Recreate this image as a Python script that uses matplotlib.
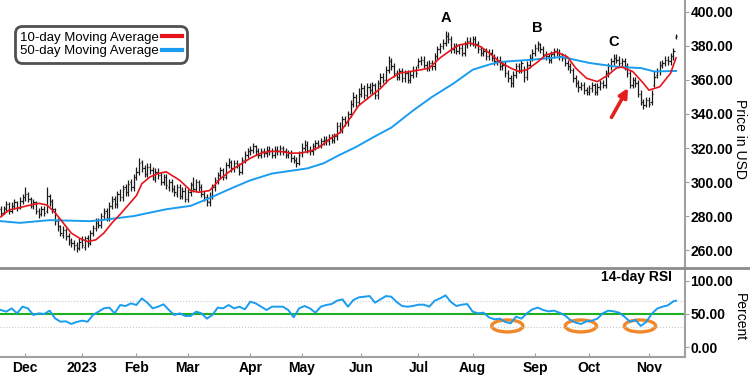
import matplotlib
matplotlib.use("Agg")
import matplotlib.pyplot as plt
from matplotlib.lines import Line2D
from matplotlib.patches import Ellipse
import numpy as np
import pandas as pd

plt.rcParams['font.family'] = ['Liberation Sans', 'DejaVu Sans']

# trading days shown (17 Nov 2022 .. 15 Nov 2023)
holidays = ['2022-11-24', '2022-12-26', '2023-01-02', '2023-01-16', '2023-02-20',
            '2023-04-07', '2023-05-29', '2023-06-19', '2023-07-04', '2023-09-04']
month_labels = ['Dec', '2023', 'Feb', 'Mar', 'Apr', 'May', 'Jun', 'Jul', 'Aug', 'Sep', 'Oct', 'Nov']

# daily OHLC (USD)
closes = [282, 284, 287, 283, 286, 288, 285, 289, 291,
          293, 290, 287, 288, 283, 281, 284, 282, 292, 289, 284, 277, 274, 270, 272, 268, 266, 264, 263, 261, 265,
          263, 266, 264, 270, 273, 276, 275, 280, 282, 279, 286, 289, 287, 293, 291, 296, 294, 299, 297, 303,
          306, 311, 308, 305, 309, 307, 303, 306, 304, 300, 303, 298, 300, 296, 294, 297, 292, 295, 290,
          294, 298, 296, 300, 297, 293, 291, 289, 292, 297, 301, 304, 307, 303, 310, 312, 308, 311, 310, 306, 313, 316, 318,
          319, 321, 318, 316, 318, 317, 319, 318, 316, 319, 318, 320, 318, 316, 317, 314, 313, 311, 316,
          320, 322, 319, 318, 321, 323, 322, 324, 325, 324, 326, 325, 327, 333, 331, 337, 335, 340, 346, 350, 347, 352,
          355, 351, 356, 354, 357, 351, 358, 362, 360, 366, 371, 368, 364, 362, 365, 361, 364, 360, 363, 366, 364,
          371, 372, 369, 367, 370, 368, 374, 378, 380, 382, 386, 384, 378, 380, 377, 379, 376, 381, 383, 382,
          384, 381, 378, 376, 377, 374, 376, 373, 371, 372, 368, 369, 364, 361, 358, 363, 368, 366, 370, 362, 369, 373, 376,
          379, 381, 378, 375, 374, 372, 375, 377, 376, 374, 373, 370, 368, 366, 361, 358, 356, 357, 354, 353,
          355, 357, 353, 356, 358, 357, 364, 368, 371, 373, 372, 370, 371, 368, 364, 357, 360, 358, 352, 347, 345, 348,
          346, 352, 362, 365, 369, 370, 372, 371, 374, 377, 386]
opens = [284, 282, 285, 287, 283, 286, 288, 285, 289,
         291, 293, 290, 286, 288, 283, 281, 284, 283, 292, 289, 284, 277, 274, 269, 272, 268, 265, 264, 263, 261,
         266, 262, 267, 264, 270, 273, 277, 275, 280, 283, 279, 286, 290, 287, 293, 291, 297, 294, 300, 297,
         303, 306, 312, 308, 305, 309, 307, 302, 306, 304, 300, 303, 297, 300, 296, 293, 297, 292, 295,
         290, 294, 299, 296, 300, 297, 293, 291, 288, 292, 297, 301, 304, 307, 303, 310, 312, 308, 311, 310, 306, 313, 316,
         318, 319, 321, 318, 316, 318, 317, 319, 318, 316, 319, 318, 320, 318, 316, 317, 314, 313, 311,
         317, 320, 322, 319, 318, 321, 323, 322, 324, 325, 324, 326, 325, 327, 333, 331, 337, 335, 340, 346, 350, 347,
         352, 355, 351, 356, 354, 357, 351, 358, 362, 360, 366, 371, 368, 364, 362, 365, 361, 364, 360, 363, 366,
         369, 371, 372, 369, 367, 370, 368, 374, 378, 380, 382, 386, 384, 378, 380, 377, 379, 376, 381, 383,
         382, 384, 381, 378, 376, 377, 374, 376, 373, 371, 372, 368, 369, 364, 361, 358, 363, 368, 366, 366, 362, 369, 373,
         376, 379, 381, 378, 375, 374, 372, 375, 377, 376, 374, 373, 370, 368, 366, 361, 358, 356, 357, 354,
         353, 355, 357, 353, 356, 358, 357, 364, 368, 371, 373, 372, 370, 371, 368, 364, 357, 360, 358, 352, 347, 345,
         348, 347, 357, 363, 365, 369, 370, 372, 371, 374, 385]
highs = [286, 286, 289, 288, 288, 290, 289, 291, 293,
         297, 294, 291, 290, 289, 285, 286, 286, 297, 293, 290, 285, 279, 275, 274, 273, 270, 267, 266, 265, 267,
         268, 268, 269, 272, 275, 279, 279, 282, 285, 285, 288, 292, 292, 295, 296, 298, 299, 301, 302, 305,
         309, 314, 313, 310, 311, 311, 309, 308, 308, 306, 305, 305, 302, 302, 298, 299, 299, 297, 297,
         296, 300, 303, 302, 301, 299, 295, 293, 294, 299, 303, 306, 309, 308, 312, 314, 313, 313, 313, 311, 315, 318, 320,
         321, 323, 322, 320, 320, 320, 321, 321, 320, 321, 321, 322, 321, 320, 319, 319, 316, 315, 318,
         323, 325, 324, 321, 323, 325, 325, 326, 327, 327, 328, 328, 329, 335, 335, 339, 339, 342, 348, 353, 352, 355,
         358, 357, 358, 358, 359, 358, 360, 364, 364, 368, 374, 373, 370, 366, 367, 367, 366, 366, 365, 368, 368,
         373, 374, 374, 371, 372, 372, 376, 380, 382, 384, 389, 388, 386, 382, 382, 381, 381, 383, 385, 385,
         386, 386, 383, 380, 379, 379, 378, 378, 375, 374, 374, 371, 371, 366, 363, 365, 370, 370, 372, 368, 371, 375, 378,
         381, 383, 382, 380, 377, 376, 377, 379, 379, 378, 376, 375, 372, 370, 367, 363, 360, 359, 359, 356,
         357, 359, 358, 358, 360, 360, 366, 370, 373, 375, 375, 374, 373, 373, 370, 366, 362, 362, 360, 354, 349, 350,
         350, 354, 365, 367, 371, 372, 374, 374, 376, 379, 387]
lows = [280, 281, 283, 281, 282, 284, 283, 284, 287,
        289, 288, 285, 284, 281, 279, 280, 280, 282, 286, 282, 275, 271, 268, 267, 266, 263, 262, 260, 259, 260,
        261, 260, 262, 263, 268, 271, 273, 273, 278, 277, 277, 284, 285, 285, 289, 289, 292, 292, 295, 295,
        301, 304, 306, 303, 303, 305, 301, 300, 302, 298, 298, 296, 295, 294, 292, 291, 290, 290, 288,
        288, 292, 294, 294, 295, 291, 289, 286, 286, 290, 295, 299, 302, 301, 302, 308, 306, 306, 308, 304, 305, 311, 314,
        316, 317, 316, 314, 314, 315, 315, 316, 314, 314, 316, 316, 316, 314, 314, 312, 311, 309, 310,
        315, 318, 317, 316, 316, 319, 320, 320, 322, 322, 322, 323, 323, 325, 329, 329, 333, 333, 338, 344, 344, 345,
        350, 349, 349, 352, 352, 349, 349, 356, 358, 358, 364, 366, 362, 360, 360, 359, 359, 358, 358, 361, 362,
        367, 369, 367, 365, 365, 366, 366, 372, 376, 378, 380, 382, 376, 376, 375, 375, 374, 374, 379, 380,
        380, 379, 376, 374, 374, 372, 372, 371, 369, 369, 366, 366, 362, 359, 356, 356, 361, 364, 364, 359, 360, 367, 371,
        374, 377, 376, 373, 372, 370, 370, 373, 374, 372, 371, 368, 366, 364, 359, 356, 353, 354, 352, 351,
        351, 353, 351, 351, 354, 355, 355, 362, 366, 369, 370, 368, 368, 366, 362, 355, 355, 356, 350, 345, 343, 344,
        344, 345, 356, 361, 363, 367, 368, 369, 369, 372, 384]

# moving averages as drawn (bar number, value)
ma10_day = [0, 3, 7, 11, 14, 17, 20, 23, 26, 29, 32, 35, 38, 41, 44, 47, 50, 52, 55, 58, 61, 62, 66, 70,
            73, 77, 81, 85, 88, 92, 96, 99, 103, 107, 110, 114, 118, 121, 125, 129, 132, 136, 140, 143,
            147, 151, 155, 158, 162, 166, 169, 173, 177, 180, 184, 188, 191, 194, 198, 201, 205, 209,
            212, 216, 220, 224, 227, 229, 233, 237, 239, 243, 247, 249]
ma10_val = [279.5, 283.5, 285, 286.5, 287.5, 286.5, 282, 276, 270, 267, 265, 266, 270, 276, 281, 286.5,
            292, 299, 303, 305, 306, 305, 301, 295, 294, 295, 302, 307, 310, 314, 317, 318, 318, 317,
            317, 318, 321, 325, 329, 338, 345, 350, 355, 360, 364, 365, 366, 367, 373, 377.6, 380.6,
            381.7, 379.5, 376, 370.6, 367, 365, 366, 370.6, 374.7, 376.5, 373.5, 367, 361, 359, 363,
            367, 367.6, 365, 358, 354, 356, 364, 373]
ma50_day = [0, 7, 18, 33, 37, 49, 61, 70, 77, 86, 92, 96, 100, 113, 119, 125, 131, 137, 144, 152, 159,
            167, 174, 180, 184, 195, 207, 217, 228, 236, 241, 249]
ma50_val = [277, 276, 277.6, 277, 277.6, 280, 284, 286, 290.6, 297, 301, 303, 305, 308, 311, 316, 320.6,
            326, 332, 342, 350, 358, 366, 369, 370.6, 371.8, 373.5, 370, 367.6, 367, 365, 365.3]

# 14-day RSI, every other bar
rsi_day = list(range(0, 250, 2)) + [249]
rsi_val = [56, 53.5, 58.5, 51, 61, 58.5, 48.5, 51, 50, 55, 43.5, 38.4, 39, 35, 38, 40, 38.4, 48.5, 53.5,
           58.5, 59.6, 51, 63.5, 62, 66, 63.5, 73.5, 67, 58.5, 61, 64.6, 56, 48.5, 51, 47, 47, 53.5, 51,
           43, 48.5, 59.6, 58.5, 63.5, 58.5, 61, 57, 68.5, 66, 61, 56, 61, 61, 61, 56, 45, 58.5, 62, 58.5,
           52, 61, 63.5, 65, 70, 72, 61, 71, 75, 76, 77, 67, 72, 77, 76, 68, 62, 61, 62, 64, 64, 61, 70,
           73.5, 78, 68, 62, 64, 65, 53.5, 51, 52, 45, 42, 43, 38, 36, 46, 43, 51, 57, 59.6, 56, 54, 55,
           52, 48, 41, 37, 35, 39, 40, 43, 51, 55, 54, 52, 46, 38.4, 41, 32, 38, 50, 58, 61, 63, 69, 70]

dates = pd.bdate_range('2022-11-17', '2023-11-15', freq='C', holidays=holidays)[:len(closes)]
idx = np.arange(len(closes))
month_pos = [i for i in range(1, len(dates)) if dates[i].month != dates[i - 1].month]

RED = '#e8141c'
BLUE = '#1a9cf0'
GRAY = '#a0a0a0'

fig = plt.figure(figsize=(7.5, 3.75), dpi=100)
ax1 = fig.add_axes([0, 0.285, 0.9133, 0.715])
ax2 = fig.add_axes([0, 0.048, 0.9133, 0.237])

# price bars
ax1.vlines(idx, lows, highs, color='#1a1a1a', lw=0.9)
ax1.hlines(opens, idx - 0.45, idx, color='#1a1a1a', lw=0.9)
ax1.hlines(closes, idx, idx + 0.45, color='#1a1a1a', lw=0.9)
ax1.plot(ma50_day, ma50_val, color=BLUE, lw=1.4)
ax1.plot(ma10_day, ma10_val, color=RED, lw=1.2)

ax1.set_xlim(-0.3, 252.3)
ax1.set_ylim(249.4, 407)
ax1.set_xticks([])
ax1.yaxis.tick_right()
ax1.set_yticks(np.arange(260, 401, 20))
ax1.set_yticklabels(['%.2f' % v for v in np.arange(260, 401, 20)], fontweight='bold', fontsize=10)
ax1.tick_params(axis='y', length=3, width=0.8, color=GRAY, pad=1)
for s in ['top', 'left', 'bottom']:
    ax1.spines[s].set_visible(False)
ax1.spines['right'].set_color(GRAY)
ax1.spines['right'].set_linewidth(1.5)

# peak labels
for i, lab in [(164, 'A'), (198, 'B'), (226, 'C')]:
    ax1.annotate(lab, (i, highs[i]), xytext=(0, 4), textcoords='offset points',
                 ha='center', va='bottom', fontweight='bold', fontsize=10.5)

ax1.annotate('', xy=(231.3, 355.3), xytext=(225.2, 338),
             arrowprops=dict(arrowstyle='-|>', color='#e5201c', lw=2.6, mutation_scale=13,
                             shrinkA=0, shrinkB=0))

handles = [Line2D([], [], color=RED, lw=3), Line2D([], [], color=BLUE, lw=3)]
leg = ax1.legend(handles, ['10-day Moving Average', '50-day Moving Average'], loc='upper left',
                 bbox_to_anchor=(15 / 750, 1 - 26 / 375), bbox_transform=fig.transFigure,
                 markerfirst=False, fancybox=True, fontsize=9.5, borderpad=0.4,
                 handlelength=1.5, handletextpad=0.2, labelspacing=0.12, borderaxespad=0,
                 framealpha=1)
leg.get_frame().set_boxstyle('round,pad=0,rounding_size=0.55')
leg.get_frame().set_edgecolor('#505050')
leg.get_frame().set_linewidth(2)

ax1.text(1.08, 0.48, 'Price in USD', transform=ax1.transAxes, rotation=270,
         ha='center', va='center', fontsize=10)

# RSI panel
ax2.axhline(70, color='#c8c8c8', lw=0.8, ls=':')
ax2.axhline(30, color='#c8c8c8', lw=0.8, ls=':')
ax2.axhline(50, color='#1fb01f', lw=1.5)
ax2.plot(rsi_day, rsi_val, color=BLUE, lw=1.4)
for cx in [186.8, 213.9, 235.7]:
    ax2.add_patch(Ellipse((cx, 32), 11.5, 18, fill=False, ec='#f0882a', lw=2.4))

ax2.set_xlim(-0.3, 252.3)
ax2.set_ylim(-14.7, 119)
ax2.yaxis.tick_right()
ax2.set_yticks([0, 50, 100])
ax2.set_yticklabels(['0.00', '50.00', '100.00'], fontweight='bold', fontsize=10)
ax2.tick_params(axis='y', length=3, width=0.8, color=GRAY, pad=1)
ax2.set_xticks(month_pos)
ax2.set_xticklabels(month_labels, fontweight='bold', fontsize=10)
ax2.tick_params(axis='x', direction='in', length=3, color=GRAY, pad=3)
ax2.spines['left'].set_visible(False)
ax2.spines['top'].set_visible(False)
for s in ['right', 'bottom']:
    ax2.spines[s].set_color(GRAY)
    ax2.spines[s].set_linewidth(1.5)
ax2.text(0.981, 0.9, '14-day RSI', transform=ax2.transAxes, ha='right', va='center',
         fontweight='bold', fontsize=10)
ax2.text(1.08, 0.45, 'Percent', transform=ax2.transAxes, rotation=270,
         ha='center', va='center', fontsize=10)

# divider between panels runs the full width
fig.add_artist(Line2D([0, 1], [0.285, 0.285], transform=fig.transFigure, color='#8c8c8c', lw=2))

fig.savefig('out.png', dpi=100)
